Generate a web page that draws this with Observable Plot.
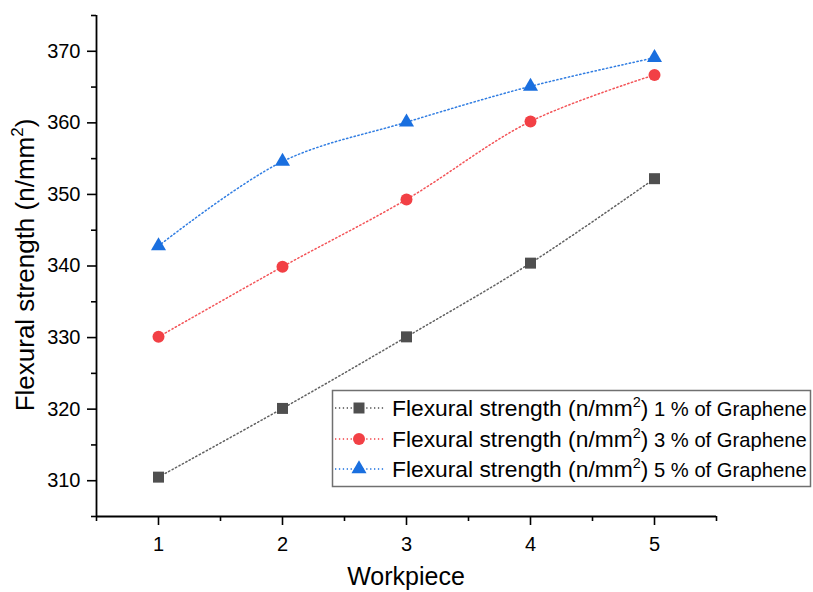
<!DOCTYPE html>
<html>
<head>
<meta charset="utf-8">
<script src="https://cdn.jsdelivr.net/npm/d3@7"></script>
<script src="https://cdn.jsdelivr.net/npm/@observablehq/plot@0.6"></script>
<style>
  html, body { margin: 0; padding: 0; background: white; }
</style>
</head>
<body>
<div id="chart"></div>
<script>
const workpiece = [1, 2, 3, 4, 5];
const graphene1 = [310.5, 320.1, 330.1, 340.4, 352.2];
const graphene3 = [330.1, 339.9, 349.3, 360.2, 366.7];
const graphene5 = [342.8, 354.6, 360.1, 365.1, 369.1];
const seriesNames = ["1 % of Graphene", "3 % of Graphene", "5 % of Graphene"];
const colors = ["#4f4f4f", "#f24045", "#1a6fdf"];
const symbols = ["square", "circle", "triangle"];
const xMajor = [1, 2, 3, 4, 5];
const xMinor = [0.5, 1.5, 2.5, 3.5, 4.5, 5.5];
const yMajor = [310, 320, 330, 340, 350, 360, 370];
const yMinor = [305, 315, 325, 335, 345, 355, 365, 375];

const seriesValues = [graphene1, graphene3, graphene5];
const data = [];
seriesValues.forEach((vals, s) => vals.forEach((v, i) => data.push({x: workpiece[i], y: v, s})));

const font = "'Liberation Sans', Arial, Helvetica, sans-serif";
const rs = [6.2, 6, 5.6];
const dash = "1.3 2.6";

const marks = [
  Plot.axisX(xMinor, {tickSize: 5, strokeWidth: 1.6, text: null, label: null}),
  Plot.axisX(xMajor, {tickSize: 9, strokeWidth: 1.6, tickPadding: 11, fontSize: 20, label: null, tickFormat: d => String(d)}),
  Plot.axisY(yMinor, {tickSize: 5, strokeWidth: 1.6, text: null, label: null}),
  Plot.axisY(yMajor, {tickSize: 9, strokeWidth: 1.6, tickPadding: 7, fontSize: 20, label: null, tickFormat: d => String(d)}),
  Plot.ruleY([305], {strokeWidth: 1.8}),
  Plot.ruleX([0.5], {strokeWidth: 1.8})
];
[0, 1, 2].forEach(s => {
  const d = data.filter(p => p.s === s);
  marks.push(Plot.line(d, {x: "x", y: "y", stroke: colors[s], strokeWidth: 1.5, strokeDasharray: dash, curve: "catmull-rom", strokeOpacity: 0.9}));
});
[0, 1, 2].forEach(s => {
  const d = data.filter(p => p.s === s);
  marks.push(Plot.dot(d, {x: "x", y: "y", fill: colors[s], symbol: () => symbols[s], r: rs[s], stroke: null}));
});

const plot = Plot.plot({
  width: 813,
  height: 592,
  marginTop: 15,
  marginRight: 97,
  marginBottom: 76,
  marginLeft: 96,
  x: {domain: [0.5, 5.5], label: null},
  y: {domain: [305, 375], label: null},
  symbol: {type: "identity"},
  style: {fontFamily: font, fontSize: "20px", color: "black", background: "white"},
  marks
});
document.getElementById("chart").appendChild(plot);

const svg = d3.select(plot);
// axis titles
const yl = svg.append("text")
  .attr("transform", "translate(34,265) rotate(-90)")
  .attr("text-anchor", "middle")
  .attr("font-family", font)
  .attr("font-size", 26)
  .attr("fill", "black");
yl.append("tspan").text("Flexural strength (n/mm");
yl.append("tspan").attr("font-size", 17).attr("dy", -11).text("2");
yl.append("tspan").attr("dy", 11).text(")");

svg.append("text")
  .attr("x", 406).attr("y", 585)
  .attr("text-anchor", "middle")
  .attr("font-family", font)
  .attr("font-size", 25)
  .attr("fill", "black")
  .text("Workpiece");

// legend
const lg = svg.append("g").attr("text-anchor", "start");
lg.append("rect")
  .attr("x", 332.5).attr("y", 390.5).attr("width", 478).attr("height", 96)
  .attr("fill", "white").attr("stroke", "#707070").attr("stroke-width", 1.5);
const rowY = [408, 439, 469];
const symMap = {square: d3.symbolSquare, circle: d3.symbolCircle, triangle: d3.symbolTriangle};
rowY.forEach((yy, s) => {
  lg.append("line").attr("x1", 335).attr("x2", 385).attr("y1", yy).attr("y2", yy)
    .attr("stroke", colors[s]).attr("stroke-width", 1.4).attr("stroke-dasharray", dash);
  lg.append("path")
    .attr("d", d3.symbol(symMap[symbols[s]], Math.PI * rs[s] * rs[s])())
    .attr("transform", `translate(359,${yy})`)
    .attr("fill", colors[s]);
  const t = lg.append("text").attr("x", 392).attr("y", yy + 8).attr("text-anchor", "start")
    .attr("font-family", font).attr("font-size", 22.8).attr("fill", "black");
  t.append("tspan").text("Flexural strength (n/mm");
  t.append("tspan").attr("font-size", 14.5).attr("dy", -9).text("2");
  t.append("tspan").attr("dy", 9).text(")");
  t.append("tspan").attr("font-size", 20.2).text(" " + seriesNames[s]);
});
</script>
</body>
</html>
